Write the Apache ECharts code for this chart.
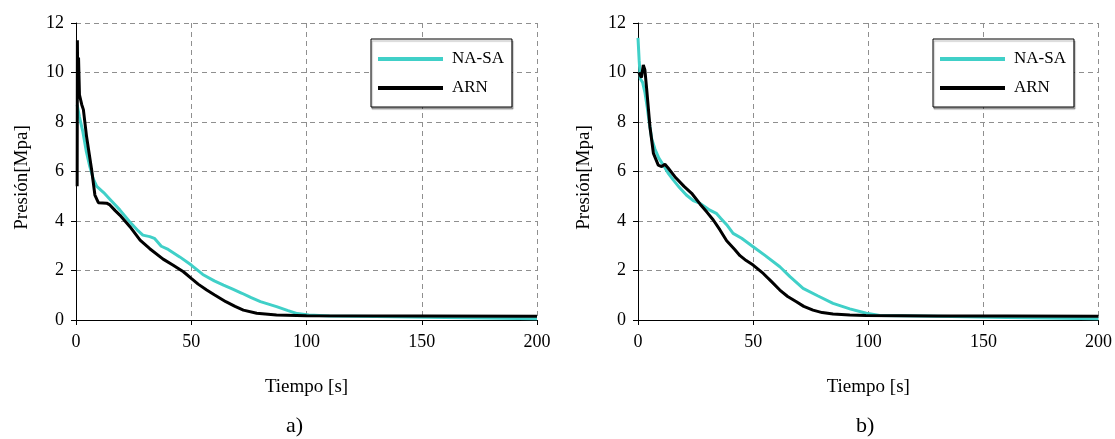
<!DOCTYPE html>
<html>
<head>
<meta charset="utf-8">
<script src="https://cdn.jsdelivr.net/npm/echarts@6/dist/echarts.min.js"></script>
<style>html,body{margin:0;padding:0;background:#fff}#c{width:1115px;height:439px}</style>
</head>
<body>
<div id="c"></div>
<script>
var seriesNames = ['NA-SA', 'ARN'];
var xTicks = [0, 50, 100, 150, 200];
var yTicks = [0, 2, 4, 6, 8, 10, 12];
var panelLabels = ['a)', 'b)'];

// Panel a) [time s, pressure MPa]
var aNaSa = [[0.5,8.7],[1.5,8.2],[3,7.6],[4.5,6.8],[6,6.2],[7.5,5.7],[9,5.4],[12,5.15],[15,4.85],[19,4.45],[23,4.0],[27,3.6],[29,3.43],[32,3.37],[34,3.3],[37,2.98],[40,2.85],[45,2.55],[50,2.22],[55,1.84],[60,1.58],[64,1.41],[68,1.25],[72,1.08],[76,0.9],[80,0.74],[87,0.54],[92,0.38],[96,0.26],[101,0.2],[110,0.16],[130,0.14],[160,0.1],[200,0.05]];
var aArn = [[0.5,5.4],[0.6,11.3],[0.8,9.0],[1.1,10.6],[1.5,9.1],[2.5,8.7],[3.2,8.5],[4.6,7.4],[6.8,6.06],[8.2,5.05],[9.7,4.74],[13.3,4.72],[14.7,4.65],[17,4.42],[19,4.24],[23.4,3.77],[27.8,3.23],[32,2.88],[37.8,2.46],[42,2.22],[46.6,1.95],[50,1.68],[53,1.45],[56.7,1.21],[60,1.02],[65,0.74],[69,0.55],[72.6,0.4],[78.4,0.27],[87,0.2],[100,0.17],[150,0.16],[200,0.15]];

// Panel b)
var bNaSa = [[0,11.4],[0.5,10.5],[1,9.75],[2,9.6],[3,9.2],[4,8.6],[5,7.9],[6,7.3],[7.4,6.9],[9,6.55],[11,6.26],[13,5.95],[15.3,5.66],[18,5.35],[21,5.05],[24,4.82],[27,4.71],[31.2,4.44],[34,4.31],[36,4.1],[38.5,3.85],[41.3,3.5],[45,3.3],[50,2.96],[55,2.62],[61.6,2.15],[66,1.75],[71.7,1.28],[78,0.98],[84.7,0.67],[92,0.45],[99.2,0.27],[105,0.18],[130,0.15],[160,0.1],[200,0.05]];
var bArn = [[0.4,10.0],[1.5,9.8],[2.3,10.3],[3,10.1],[3.8,9.3],[5.2,7.8],[6.7,6.73],[8.8,6.26],[10.3,6.2],[11.7,6.29],[13,6.15],[16,5.79],[20,5.4],[23.3,5.12],[27,4.68],[30,4.35],[32.7,4.04],[35.6,3.64],[38.5,3.2],[42,2.85],[44.3,2.6],[47,2.4],[50,2.22],[54.4,1.88],[58,1.55],[61.6,1.21],[65,0.95],[68.8,0.74],[72,0.55],[76,0.4],[80,0.3],[84.7,0.24],[92,0.2],[99,0.18],[130,0.16],[160,0.16],[200,0.15]];

var FONT = 'Liberation Serif, Times New Roman, serif';
var CYAN = '#40d0c8';

var chart = echarts.init(document.getElementById('c'), null, {renderer: 'canvas'});

function xAxisCfg(gi) {
  return {
    gridIndex: gi, type: 'value', min: xTicks[0], max: xTicks[xTicks.length-1], interval: xTicks[1]-xTicks[0],
    name: 'Tiempo [s]', nameLocation: 'middle', nameGap: 58,
    nameTextStyle: {fontFamily: FONT, fontSize: 19, color: '#000'},
    axisLine: {show: true, onZero: false, lineStyle: {color: '#000', width: 1}},
    axisTick: {show: true, inside: false, length: 5, lineStyle: {color: '#000'}},
    axisLabel: {fontFamily: FONT, fontSize: 18, color: '#000', margin: 13},
    splitLine: {show: true, lineStyle: {color: '#8f8f8f', type: [5, 4], width: 1}}
  };
}
function yAxisCfg(gi) {
  return {
    gridIndex: gi, type: 'value', min: yTicks[0], max: yTicks[yTicks.length-1], interval: yTicks[1]-yTicks[0],
    name: 'Presión[Mpa]', nameLocation: 'middle', nameGap: 44,
    nameTextStyle: {fontFamily: FONT, fontSize: 19, color: '#000', padding: [0, 12, 0, 0]},
    axisLine: {show: true, onZero: false, lineStyle: {color: '#000', width: 1}},
    axisTick: {show: true, inside: false, length: 5, lineStyle: {color: '#000'}},
    axisLabel: {fontFamily: FONT, fontSize: 18, color: '#000', margin: 12},
    splitLine: {show: true, lineStyle: {color: '#8f8f8f', type: [5, 4], width: 1}}
  };
}
function legendCfg(left) {
  return {
    orient: 'vertical', left: left, top: 39,
    data: seriesNames,
    icon: 'rect', itemWidth: 65, itemHeight: 4, itemGap: 9,
    padding: [10, 8, 9, 7],
    backgroundColor: '#fff', borderColor: '#000', borderWidth: 1,
    shadowColor: 'rgba(0,0,0,0.3)', shadowOffsetX: 1, shadowOffsetY: 2, shadowBlur: 1,
    textStyle: {fontFamily: FONT, fontSize: 17, color: '#000', lineHeight: 20, padding: [0, 0, 0, 4]},
    selectedMode: false
  };
}
function line(name, data, color, xi) {
  return {
    name: name, type: 'line', xAxisIndex: xi, yAxisIndex: xi, data: data,
    showSymbol: false, symbol: 'none', smooth: false,
    lineStyle: {color: color, width: 3}, itemStyle: {color: color},
    animation: false, z: name === 'ARN' ? 3 : 2
  };
}

chart.setOption({
  animation: false,
  backgroundColor: '#fff',
  grid: [
    {left: 76, top: 23, width: 461, height: 297},
    {left: 638, top: 23, width: 461, height: 297}
  ],
  xAxis: [xAxisCfg(0), xAxisCfg(1)],
  yAxis: [yAxisCfg(0), yAxisCfg(1)],
  legend: [legendCfg(371), legendCfg(933)],
  series: [
    line(seriesNames[0], aNaSa, CYAN, 0),
    line(seriesNames[1], aArn, '#000', 0),
    line(seriesNames[0], bNaSa, CYAN, 1),
    line(seriesNames[1], bArn, '#000', 1)
  ],
  graphic: [
    {type: 'text', left: 286, top: 415, style: {text: panelLabels[0], font: '22px ' + FONT, fill: '#000'}},
    {type: 'text', left: 856, top: 415, style: {text: panelLabels[1], font: '22px ' + FONT, fill: '#000'}}
  ]
});
</script>
</body>
</html>
